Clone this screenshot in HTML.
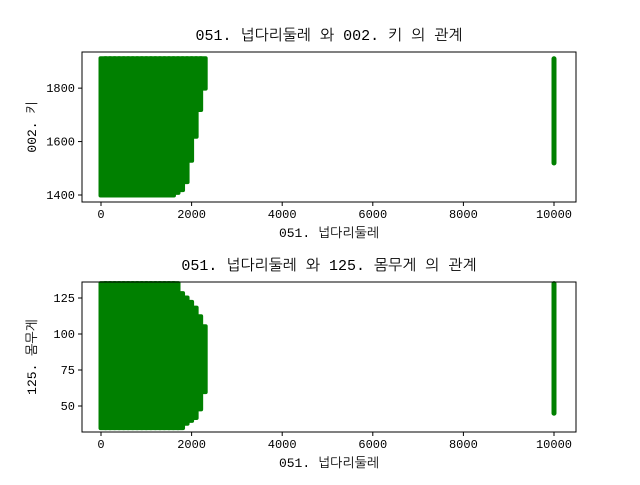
<!DOCTYPE html>
<html><head><meta charset="utf-8"><style>
body{margin:0;background:#fff}
svg text{font-family:"Liberation Mono","NanumGothic",monospace;fill:#000}
</style></head><body>
<svg id="c" width="640" height="480" xmlns="http://www.w3.org/2000/svg"></svg>
<script>
const xBins=[0,100,200,300,400,500,600,700,800,900,1000,1100,1200,1300,1400,1500,1600,1700,1800,1900,2000,2100,2200];
const topMin=[1400,1400,1400,1400,1400,1400,1400,1400,1400,1400,1400,1400,1400,1400,1400,1400,1410,1420,1450,1530,1620,1720,1800];
const topMax=[1910,1910,1910,1910,1910,1910,1910,1910,1910,1910,1910,1910,1910,1910,1910,1910,1910,1910,1910,1910,1910,1910,1910];
const botMin=[35,35,35,35,35,35,35,35,35,35,35,35,35,35,35,35,35,35,38,40,42,48,60];
const botMax=[135,135,135,135,135,135,135,135,135,135,135,135,135,135,135,135,135,128,125,122,118,112,105];
const outX=10000, outTop=[1520,1910], outBot=[45,135];
const xTicks=[0,2000,4000,6000,8000,10000];
const topTicks=[1400,1600,1800], botTicks=[50,75,100,125];
const NS="http://www.w3.org/2000/svg", svg=document.getElementById('c');
function mk(t,a,p){const e=document.createElementNS(NS,t);for(const k in a)e.setAttribute(k,a[k]);(p||svg).appendChild(e);return e;}
const X0=82,X1=576;
const xs=v=>101+v*0.04530;
function panel(top,B,y0,y1,yv0,yv1,ticks,mins,maxs,out,title,ylab,id){
  // y0: pixel of yv1 (upper value), y1: pixel of yv0 (lower value)
  const ys=v=>y1-(v-yv0)/(yv1-yv0)*(y1-y0);
  const g=mk('g',{});
  
  const r=2.5;
  xBins.forEach((b,i)=>{
    const e=mk('rect',{x:xs(b)-r,y:ys(maxs[i])-r,width:xs(b+100)-xs(b)+2*r,height:ys(mins[i])-ys(maxs[i])+2*r,fill:'#008000',rx:2},g);
    
  });
  const o=mk('rect',{x:xs(outX)-r,y:ys(out[1])-r,width:2*r,height:ys(out[0])-ys(out[1])+2*r,fill:'#008000',rx:2.5},g);
  
  const f=mk('rect',{x:X0,y:top,width:X1-X0,height:B-top,fill:'none',stroke:'#000','stroke-width':1},g);
  
  xTicks.forEach(t=>{mk('line',{x1:xs(t),x2:xs(t),y1:B,y2:B+4,stroke:'#000'},g);
    const tx=mk('text',{x:xs(t),y:B+16,'text-anchor':'middle','font-size':12},g);tx.textContent=t;
    });
  ticks.forEach(t=>{mk('line',{x1:X0-4,x2:X0,y1:ys(t),y2:ys(t),stroke:'#000'},g);
    const tx=mk('text',{x:X0-7,y:ys(t)+4,'text-anchor':'end','font-size':12},g);tx.textContent=t;
    });
  const xl=mk('text',{x:329,y:B+35,'text-anchor':'middle','font-size':13},g);xl.textContent='051. 넙다리둘레';
  
  const yl=mk('text',{transform:`translate(36,${(top+B)/2}) rotate(-90)`,'text-anchor':'middle','font-size':13},g);yl.textContent=ylab;
  
  const tt=mk('text',{x:329,y:top-12,'text-anchor':'middle','font-size':15},g);tt.textContent=title;
  
}
panel(52,202,58.75,195,1400,1910,topTicks,topMin,topMax,outTop,'051. 넙다리둘레  와 002. 키 의 관계','002. 키','top');
panel(282,432,298,406,50,125,botTicks,botMin,botMax,outBot,'051. 넙다리둘레  와 125. 몸무게 의 관계','125. 몸무게','bottom');
</script>
</body></html>
